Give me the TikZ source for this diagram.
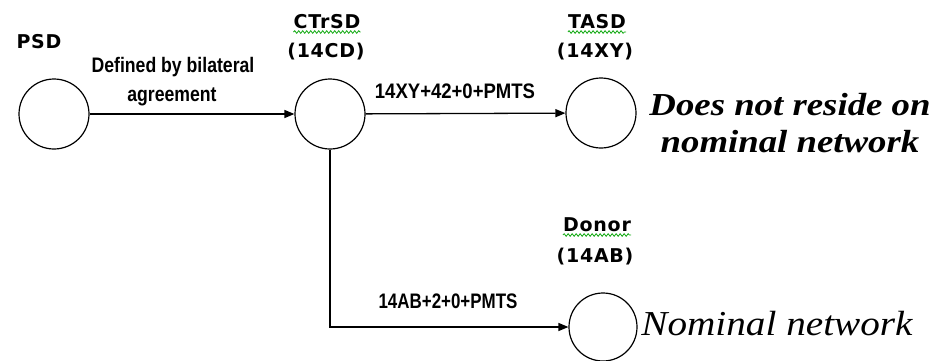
\documentclass[tikz,border=0pt]{standalone}
\usepackage{fontspec}
\setmainfont{Liberation Serif}
\newfontfamily\hdrfont[LetterSpace=4]{DejaVu Sans}
\newfontfamily\lblfont{Liberation Sans}
\usetikzlibrary{arrows.meta,decorations.pathmorphing}
\definecolor{spellgreen}{RGB}{20,170,20}
\tikzset{
  circ/.style={circle,draw,line width=1.2pt,minimum size=70pt,inner sep=0pt},
  conn/.style={line width=1.3pt,-{Triangle[length=10pt,width=8pt]}},
  hdr/.style={inner sep=0pt,anchor=base,font=\hdrfont\bfseries\fontsize{19}{21}\selectfont},
  lbl/.style={inner sep=0pt,anchor=base,xscale=0.84,font=\lblfont\bfseries\fontsize{21}{24}\selectfont},
  big/.style={inner sep=0pt,anchor=base,xscale=1.15,font=\bfseries\itshape\fontsize{32}{36}\selectfont},
  bigr/.style={inner sep=0pt,anchor=base,xscale=1.12,font=\itshape\fontsize{35}{38}\selectfont},
  wavy/.style={draw=spellgreen,line width=0.8pt,decorate,decoration={snake,amplitude=1.3pt,segment length=4pt}}
}
\begin{document}
\begin{tikzpicture}[x=1pt,y=-1pt]
\useasboundingbox (0,0) rectangle (940,360);
% circles
\node[circ] (psd) at (54,114) {};
\node[circ] (ctrsd) at (330,114) {};
\node[circ] (tasd) at (601,113) {};
\node[circ,minimum size=68pt] (donor) at (603,327) {};
% headers
\node[hdr] (psdl) at (39,48) {PSD};
\node[hdr] (ctrsdl) at (327,28) {CTrSD};
\node[hdr] (ctrsdc) at (326,57) {(14CD)};
\node[hdr] (tasdl) at (597,28) {TASD};
\node[hdr] (tasdc) at (595,57) {(14XY)};
\node[hdr] (donorl) at (597,231) {Donor};
\node[hdr] (donorc) at (595,262) {(14AB)};
% spell-check underlines
\draw[wavy] ([yshift=-4pt]ctrsdl.base west) -- ([yshift=-4pt]ctrsdl.base east);
\draw[wavy] ([yshift=-4pt]tasdl.base west) -- ([yshift=-4pt]tasdl.base east);
\draw[wavy] ([yshift=-4pt]donorl.base west) -- ([yshift=-4pt]donorl.base east);
% connector labels
\node[lbl] (def1) at (173,72) {Defined by bilateral};
\node[lbl] (def2) at (172,101) {agreement};
\node[lbl,xscale=1.05] (xy) at (455,98) {14XY+42+0+PMTS};
\node[lbl,xscale=0.96] (ab) at (448,308) {14AB+2+0+PMTS};
% big texts
\node[big] (nr1) at (790,115) {Does not reside on};
\node[big] (nr2) at (790,152) {nominal network};
\node[bigr] (nom) at (777,335) {Nominal network};
% connectors
\draw[conn] (psd) -- (ctrsd);
\draw[conn] (ctrsd) -- (tasd);
\draw[conn] (ctrsd.south) |- (donor.west);
\end{tikzpicture}
\end{document}
